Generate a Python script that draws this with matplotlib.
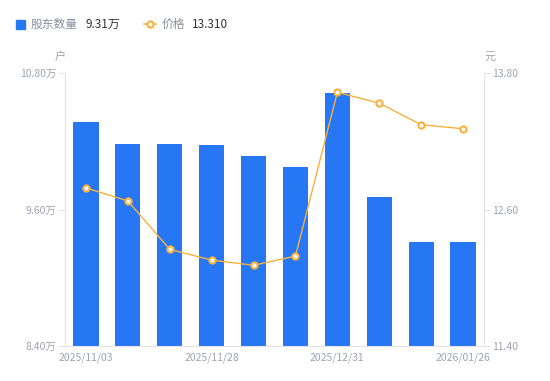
import matplotlib
matplotlib.use("Agg")
import matplotlib.pyplot as plt
from matplotlib.lines import Line2D
from matplotlib.patches import Rectangle

plt.rcParams['font.family'] = ['Noto Sans CJK SC', 'DejaVu Sans']

dates = ["2025/11/03", "2025/11/10", "2025/11/20", "2025/11/28", "2025/12/10",
         "2025/12/19", "2025/12/31", "2026/01/09", "2026/01/20", "2026/01/26"]
holders = [10.37, 10.175, 10.175, 10.165, 10.07, 9.975, 10.62, 9.71, 9.31, 9.31]  # 万户
price = [12.79, 12.675, 12.25, 12.155, 12.11, 12.19, 13.63, 13.535, 13.345, 13.31]

BLUE = "#2777f5"
ORANGE = "#f7b13d"
GRID = "#e3e3e8"
TXT = "#9ea2b3"

fig = plt.figure(figsize=(5.5, 3.81), dpi=100)
ax = fig.add_axes([65 / 550, 35 / 381, 419 / 550, 273 / 381])
ax2 = ax.twinx()

x = range(len(dates))
ax.bar(x, holders, width=0.6, color=BLUE, zorder=2)
ax.set_xlim(-0.5, len(dates) - 0.5)
ax.set_ylim(8.40, 10.80)
ax.set_yticks([8.40, 9.60, 10.80])
ax.set_yticklabels([f"{v:.2f}万" for v in (8.40, 9.60, 10.80)])
ax.set_xticks([0, 3, 6, 9])
ax.set_xticklabels([dates[i] for i in (0, 3, 6, 9)])

ax2.plot(x, price, color=ORANGE, lw=1, marker="o", ms=4.5, mfc="white",
         mec=ORANGE, mew=1.5, zorder=3)
ax2.set_ylim(11.40, 13.80)
ax2.set_yticks([11.40, 12.60, 13.80])
ax2.set_yticklabels([f"{v:.2f}" for v in (11.40, 12.60, 13.80)])

for a in (ax, ax2):
    for s in a.spines.values():
        s.set_visible(False)
    a.tick_params(colors=TXT, labelsize=7.5, length=4, width=0.8, color=GRID)
ax.spines["left"].set_visible(True)
ax.spines["left"].set_color(GRID)
ax.spines["bottom"].set_visible(True)
ax.spines["bottom"].set_color(GRID)
ax2.spines["right"].set_visible(True)
ax2.spines["right"].set_color(GRID)
ax.tick_params(axis="x", length=0, pad=5)
ax.tick_params(axis="y", pad=2)
ax2.tick_params(axis="y", pad=2)

fig.text(60 / 550, 1 - 57 / 381, "户", color=TXT, fontsize=8, ha="center", va="center")
fig.text(490 / 550, 1 - 57 / 381, "元", color=TXT, fontsize=8, ha="center", va="center")

# legend
fig.patches.append(Rectangle((16 / 550, 1 - 29 / 381), 9 / 550, 9 / 381,
                             transform=fig.transFigure, color=BLUE))
fig.text(31 / 550, 1 - 24 / 381, "股东数量", color="#8a8e9c", fontsize=8.5, va="center")
fig.text(85 / 550, 1 - 24 / 381, "9.31万", color="#333333", fontsize=8.5, va="center")
fig.lines.append(Line2D([144 / 550, 156 / 550], [1 - 24 / 381] * 2, transform=fig.transFigure,
                        color=ORANGE, lw=1.2, marker="o", markevery=[0], ms=0))
fig.lines.append(Line2D([150 / 550], [1 - 24 / 381], transform=fig.transFigure,
                        color=ORANGE, marker="o", ms=4.5, mfc="white", mew=1.5))
fig.text(162 / 550, 1 - 24 / 381, "价格", color="#8a8e9c", fontsize=8.5, va="center")
fig.text(192 / 550, 1 - 24 / 381, "13.310", color="#333333", fontsize=8.5, va="center")

fig.savefig("out.png", dpi=100)
